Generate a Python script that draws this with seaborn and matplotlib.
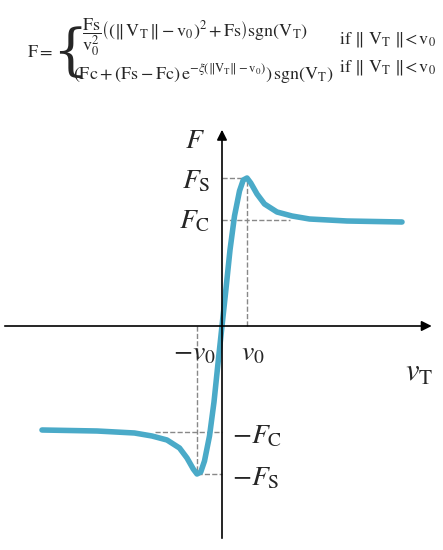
import matplotlib
matplotlib.use("Agg")
import matplotlib.pyplot as plt
import seaborn as sns
import numpy as np

sns.set_style("white")
plt.rcParams['font.family'] = ['Liberation Serif', 'DejaVu Serif']
plt.rcParams['mathtext.fontset'] = 'stix'

v_pos = [0, 0.15, 0.32, 0.5, 0.7, 0.85, 1.0, 1.15, 1.4, 1.7, 2.2, 2.8, 3.5, 5.0, 7.2]
F_pos = [0, 0.35, 0.76, 1.1, 1.35, 1.46, 1.48, 1.43, 1.32, 1.22, 1.14, 1.10, 1.07, 1.05, 1.04]
v = [-x for x in v_pos[::-1]] + v_pos[1:]
F = [-y for y in F_pos[::-1]] + F_pos[1:]
Fs, Fc, v0 = 1.48, 1.06, 1.0

fig = plt.figure(figsize=(4.43, 5.5), dpi=100)
ax = fig.add_axes([0, 0, 1, 1])
ax.set_xlim(-8.88, 8.84)
ax.set_ylim(-2.24, 3.26)
ax.axis('off')

dash = dict(color='#888888', ls='--', lw=1)
ax.plot([v0, v0], [0, Fs], **dash)
ax.plot([0, v0], [Fs, Fs], **dash)
ax.plot([0, 2.7], [Fc, Fc], **dash)
ax.plot([-v0, -v0], [0, -Fs], **dash)
ax.plot([-v0, 0], [-Fs, -Fs], **dash)
ax.plot([-2.7, 0], [-Fc, -Fc], **dash)

ax.annotate('', xy=(8.5, 0), xytext=(-8.8, 0),
            arrowprops=dict(arrowstyle='-|>', color='black', lw=1.2, mutation_scale=15))
ax.annotate('', xy=(0, 1.99), xytext=(0, -2.15),
            arrowprops=dict(arrowstyle='-|>', color='black', lw=1.2, mutation_scale=15))

sns.lineplot(x=v, y=F, ax=ax, color='#4AAAC8', lw=4, sort=False)

fs = 20
ax.text(-0.7, 1.84, r'$F$', fontsize=fs, ha='right', va='center')
ax.text(-0.45, 1.44, r'$F_{\mathrm{S}}$', fontsize=fs, ha='right', va='center')
ax.text(-0.45, 1.04, r'$F_{\mathrm{C}}$', fontsize=fs, ha='right', va='center')
ax.text(-1.1, -0.28, r'$-v_0$', fontsize=fs, ha='center', va='center')
ax.text(1.25, -0.28, r'$v_0$', fontsize=fs, ha='center', va='center')
ax.text(7.9, -0.47, r'$v_{\mathrm{T}}$', fontsize=fs+2, ha='center', va='center')
ax.text(0.4, -1.11, r'$-F_{\mathrm{C}}$', fontsize=fs, ha='left', va='center')
ax.text(0.4, -1.53, r'$-F_{\mathrm{S}}$', fontsize=fs, ha='left', va='center')

# formula
ft = 13
fig.text(0.06, 0.905, r'$\mathrm{F=}$', fontsize=ft, va='center')
fig.text(0.118, 0.903, '{', fontsize=40, va='center', family='DejaVu Serif', fontweight='light')
fig.text(0.185, 0.932,
         r'$\dfrac{\mathrm{Fs}}{\mathrm{v}_0^2}\left((\|\,\mathrm{V_T}\,\|-\mathrm{v}_0)^2+\mathrm{Fs}\right)\mathrm{sgn}(\mathrm{V_T})$',
         fontsize=ft, va='center')
fig.text(0.165, 0.866,
         r'$(\mathrm{Fc}+(\mathrm{Fs}-\mathrm{Fc})\,\mathrm{e}^{-\xi(\|\mathrm{V_T}\|-\mathrm{v}_0)})\,\mathrm{sgn}(\mathrm{V_T})$',
         fontsize=ft, va='center')
fig.text(0.765, 0.928, r'$\mathrm{if}\ \|\ \mathrm{V_T}\ \|\!<\mathrm{v}_0$', fontsize=ft, va='center')
fig.text(0.765, 0.878, r'$\mathrm{if}\ \|\ \mathrm{V_T}\ \|\!<\mathrm{v}_0$', fontsize=ft, va='center')

fig.savefig('out.png', dpi=100)
